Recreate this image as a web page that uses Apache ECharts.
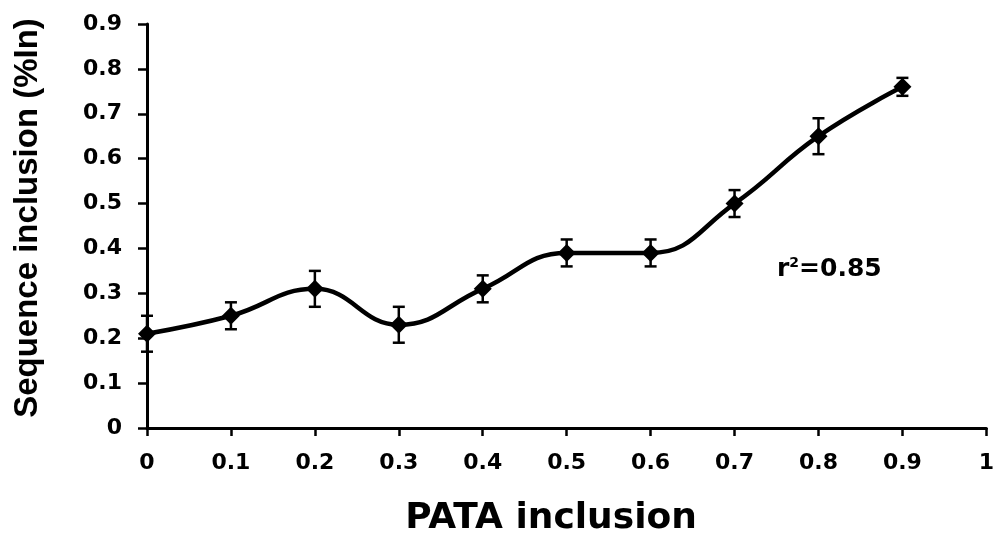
<!DOCTYPE html>
<html>
<head>
<meta charset="utf-8">
<script src="https://cdn.jsdelivr.net/npm/echarts@6/dist/echarts.min.js"></script>
<style>html,body{margin:0;padding:0;background:#fff}#c{width:997px;height:538px}</style>
</head>
<body>
<div id="c"></div>
<script>
const xValues = [0, 0.1, 0.2, 0.3, 0.4, 0.5, 0.6, 0.7, 0.8, 0.9];
const yValues = [0.21, 0.25, 0.31, 0.23, 0.31, 0.39, 0.39, 0.50, 0.65, 0.76];
const yErrors = [0.04, 0.03, 0.04, 0.04, 0.03, 0.03, 0.03, 0.03, 0.04, 0.02];
const xTicks = [0, 0.1, 0.2, 0.3, 0.4, 0.5, 0.6, 0.7, 0.8, 0.9, 1];
const yTicks = [0, 0.1, 0.2, 0.3, 0.4, 0.5, 0.6, 0.7, 0.8, 0.9];
const xTitle = 'PATA inclusion';
const yTitle = 'Sequence inclusion (%In)';
const rText = '0.85';

const FONT = '"DejaVu Sans", sans-serif';
const FONT2 = '"Liberation Sans", Arial, sans-serif';
const chart = echarts.init(document.getElementById('c'));
const lineData = xValues.map((x, i) => [x, yValues[i]]);
const errData = xValues.map((x, i) => [x, yValues[i] - yErrors[i], yValues[i] + yErrors[i]]);

chart.setOption({
  animation: false,
  backgroundColor: '#fff',
  grid: { left: 147, right: 8, top: 24, bottom: 110 },
  xAxis: {
    type: 'value', min: 0, max: 1, interval: 0.1,
    axisLine: { lineStyle: { color: '#000', width: 3 } },
    axisTick: { show: true, length: 8, lineStyle: { color: '#000', width: 2.5 } },
    splitLine: { show: false },
    axisLabel: {
      color: '#000', fontFamily: FONT, fontWeight: 'bold', fontSize: 22, margin: 24,
      formatter: v => { const t = xTicks.find(k => Math.abs(k - v) < 1e-6); return t === undefined ? '' : String(t); }
    }
  },
  yAxis: {
    type: 'value', min: 0, max: 0.9, interval: 0.1,
    axisLine: { show: true, lineStyle: { color: '#000', width: 3 } },
    axisTick: { show: true, length: 9, lineStyle: { color: '#000', width: 2.5 } },
    splitLine: { show: false },
    axisLabel: {
      color: '#000', fontFamily: FONT, fontWeight: 'bold', fontSize: 22, margin: 25,
      formatter: v => { const t = yTicks.find(k => Math.abs(k - v) < 1e-6); return t === undefined ? '' : String(t); }
    }
  },
  graphic: [
    { type: 'text', x: 551, y: 519, style: { text: xTitle, fill: '#000', font: 'bold 36px ' + FONT, textAlign: 'center', textVerticalAlign: 'middle' } },
    { type: 'text', rotation: Math.PI / 2, x: 28, y: 218, style: { text: yTitle, fill: '#000', font: 'bold 33px ' + FONT2, textAlign: 'center', textVerticalAlign: 'middle' } }
  ],
  series: [
    {
      type: 'custom',
      data: errData,
      z: 3,
      renderItem: (params, api) => {
        const x = api.value(0);
        const lo = api.coord([x, api.value(1)]);
        const hi = api.coord([x, api.value(2)]);
        const w = 6;
        const st = { stroke: '#000', lineWidth: 2.5 };
        return {
          type: 'group',
          children: [
            { type: 'line', shape: { x1: lo[0], y1: lo[1], x2: hi[0], y2: hi[1] }, style: st },
            { type: 'line', shape: { x1: lo[0] - w, y1: lo[1], x2: lo[0] + w, y2: lo[1] }, style: st },
            { type: 'line', shape: { x1: hi[0] - w, y1: hi[1], x2: hi[0] + w, y2: hi[1] }, style: st }
          ]
        };
      }
    },
    {
      type: 'line',
      data: lineData,
      smooth: 0.45,
      z: 4,
      symbol: 'diamond',
      symbolSize: 18,
      itemStyle: { color: '#000' },
      lineStyle: { color: '#000', width: 4.5 },
      markPoint: {
        symbol: 'rect', symbolSize: 1, itemStyle: { color: 'rgba(0,0,0,0)' },
        data: [{ coord: [0.813, 0.354], value: 'r²' }],
        label: {
          show: true, position: 'inside',
          formatter: 'r{sup|2}=' + rText,
          color: '#000', fontFamily: FONT, fontWeight: 'bold', fontSize: 25,
          rich: { sup: { fontFamily: FONT, fontWeight: 'bold', fontSize: 14, verticalAlign: 'top', padding: [0, 0, 12, 0], color: '#000' } }
        }
      }
    }
  ]
});
</script>
</body>
</html>
